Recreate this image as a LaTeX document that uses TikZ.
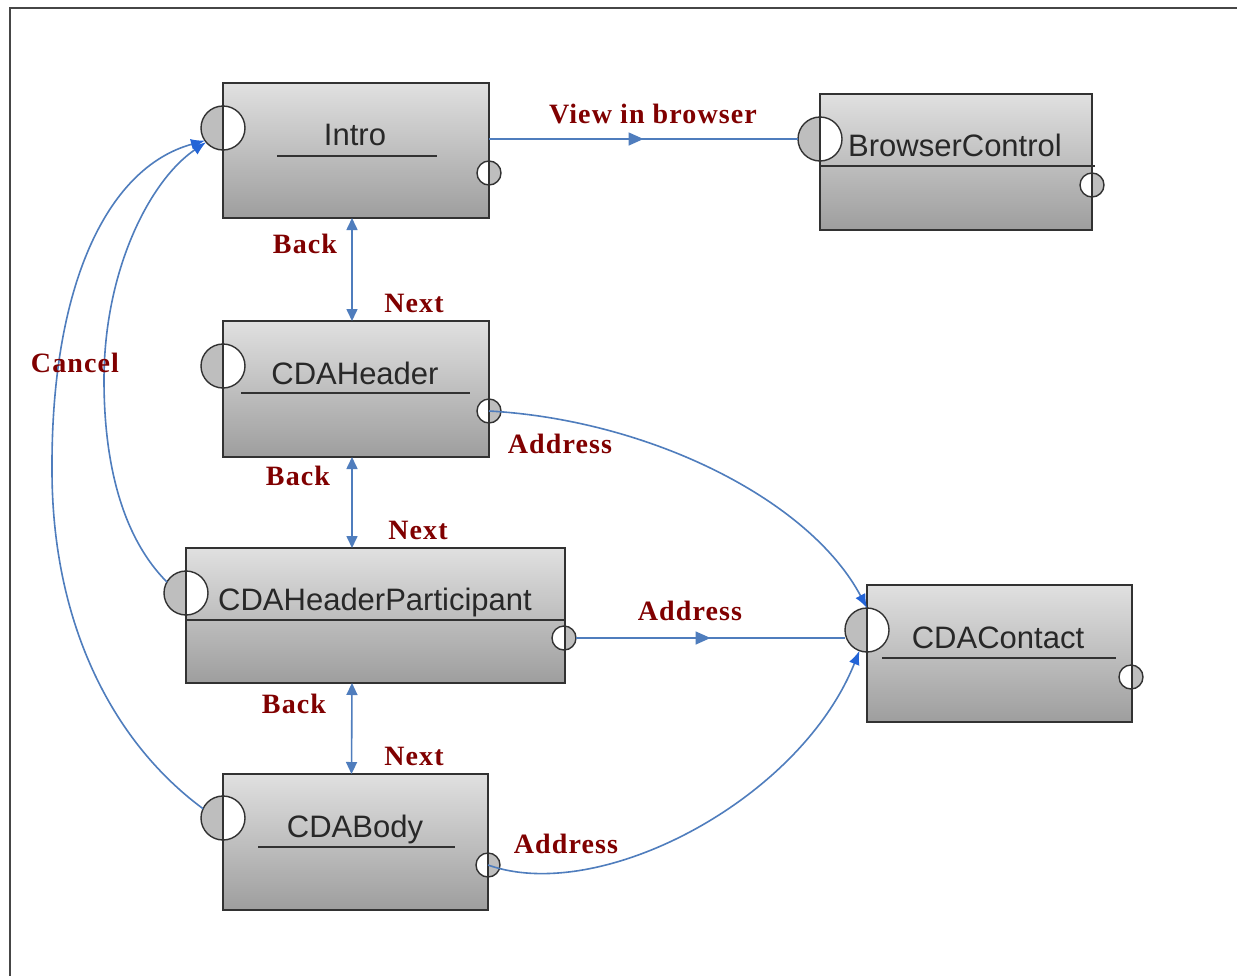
\documentclass[tikz,border=0pt]{standalone}
\usepackage{fontspec}
\setmainfont{Liberation Sans}
\newfontfamily\labfont[LetterSpace=4]{Liberation Serif}
\usetikzlibrary{arrows.meta,decorations.markings}
\definecolor{linecol}{RGB}{79,125,189}
\definecolor{tipcol}{RGB}{35,100,215}
\definecolor{labcol}{RGB}{128,0,0}
\definecolor{boxline}{RGB}{50,50,50}
\definecolor{framecol}{RGB}{70,70,70}
\definecolor{txtcol}{RGB}{40,40,40}
\definecolor{boxtop}{RGB}{224,224,224}
\definecolor{boxbot}{RGB}{158,158,158}
\definecolor{portgray}{RGB}{190,190,190}
\begin{document}
\begin{tikzpicture}[x=1pt,y=-1pt,
  box/.style={rectangle,draw=boxline,line width=1.8pt,top color=boxtop,bottom color=boxbot,inner sep=0pt,outer sep=0pt,anchor=north west},
  boxedge/.style={draw=boxline,line width=1.8pt},
  bigport/.style={circle,draw=boxline,line width=1.4pt,fill=white,minimum size=44pt,inner sep=0pt,outer sep=0pt,
    path picture={\fill[portgray] (path picture bounding box.north west) rectangle (path picture bounding box.south);}},
  smallport/.style={circle,draw=boxline,line width=1.4pt,fill=white,minimum size=24pt,inner sep=0pt,outer sep=0pt,
    path picture={\fill[portgray] (path picture bounding box.north) rectangle (path picture bounding box.south east);}},
  sepline/.style={draw=boxline,line width=1.8pt},
  compname/.style={anchor=base,text=txtcol,font=\fontsize{31}{36}\selectfont,inner sep=0pt},
  lab/.style={anchor=base,text=labcol,font=\labfont\bfseries\fontsize{28}{32}\selectfont,inner sep=0pt},
  conn/.style={draw=linecol,line width=1.6pt},
  dblarrow/.style={{Triangle[length=12pt,width=11pt]}-{Triangle[length=12pt,width=11pt]}},
  tip/.style={-{Latex[length=14pt,width=11pt,color=tipcol]}},
  midarrow/.style={postaction={decorate},decoration={markings,mark=at position 0.5 with {\arrow{Triangle[length=15pt,width=13pt]}}}}
]
\useasboundingbox (0,0) rectangle (1237,975);
\fill[white] (0,0) rectangle (1237,975);
% frame
\draw[framecol,line width=2.5pt] (10,990) -- (10,8) -- (1250,8);

% boxes
\node[box,minimum width=266pt,minimum height=135pt] (intro) at (223,83) {};
\node[box,minimum width=272pt,minimum height=136pt] (bc) at (820,94) {};
\node[box,minimum width=266pt,minimum height=136pt] (hdr) at (223,321) {};
\node[box,minimum width=379pt,minimum height=135pt] (pp) at (186,548) {};
\node[box,minimum width=265pt,minimum height=137pt] (contact) at (867,585) {};
\node[box,minimum width=265pt,minimum height=136pt] (body) at (223,774) {};

% separator / underline lines
\draw[sepline] (277,156) -- (437,156);
\draw[sepline] (820,166) -- (1095,166);
\draw[sepline] (241,393) -- (470,393);
\draw[sepline] (186,620) -- (565,620);
\draw[sepline] (882,658) -- (1116,658);
\draw[sepline] (258,847) -- (455,847);

% ports
\node[bigport] (introIn) at (223,128) {};
\node[smallport] (introOut) at (489,173) {};
\node[bigport] (bcIn) at (820,139) {};
\node[smallport] (bcOut) at (1092,185) {};
\node[bigport] (hdrIn) at (223,366) {};
\node[smallport] (hdrOut) at (489,411) {};
\node[bigport] (ppIn) at (186,593) {};
\node[smallport] (ppOut) at (564,638) {};
\node[bigport] (cIn) at (867,630) {};
\node[smallport] (cOut) at (1131,677) {};
\node[bigport] (bodyIn) at (223,818) {};
\node[smallport] (bodyOut) at (488,865) {};

% box edges redrawn through the ports
\foreach \b in {intro,bc,hdr,pp,contact,body}{
  \draw[boxedge] (\b.north west) rectangle (\b.south east);
}

% component names
\node[compname] (introT) at (355,145) {Intro};
\node[compname] (bcT) at (955,156) {BrowserControl};
\node[compname] (hdrT) at (355,384) {CDAHeader};
\node[compname] (ppT) at (375,610) {CDAHeaderParticipant};
\node[compname] (cT) at (998,648) {CDAContact};
\node[compname] (bodyT) at (355,837) {CDABody};

% connectors
\draw[conn,dblarrow] ([xshift=-4pt]intro.south) -- ([xshift=-4pt]hdr.north);
\draw[conn,dblarrow] ([xshift=-4pt]hdr.south) -- ([xshift=-4pt]hdr.south |- pp.north);
\draw[conn,dblarrow] ([xshift=-4pt]hdr.south |- pp.south) -- ([xshift=-4pt]body.north);

\draw[conn,midarrow] (intro.east |- bcIn) -- (bcIn.west);
\draw[conn,midarrow] (ppOut.east) -- (ppOut.east -| cIn.west);

\draw[conn,tip] (hdrOut.center) .. controls (650,420) and (810,500) .. (cIn.north);
\draw[conn,tip] (bodyOut.center) .. controls (600,905) and (800,800) .. (cIn.250);

\draw[conn,tip] (bodyIn.155) .. controls (110,740) and (52,620) .. (52,470)
   .. controls (51,290) and (105,168) .. (introIn.215);
\draw[conn,tip] (ppIn.150) .. controls (125,540) and (104,470) .. (104,380)
   .. controls (104,270) and (150,180) .. (introIn.220);

% labels
\node[lab] (lView) at (653,123) {View in browser};
\node[lab] (lAddr1) at (560,453) {Address};
\node[lab] (lAddr2) at (690,620) {Address};
\node[lab] (lAddr3) at (566,853) {Address};
\node[lab] (lBack1) at (305,253) {Back};
\node[lab] (lNext1) at (414,312) {Next};
\node[lab] (lBack2) at (298,485) {Back};
\node[lab] (lNext2) at (418,539) {Next};
\node[lab] (lBack3) at (294,713) {Back};
\node[lab] (lNext3) at (414,765) {Next};
\node[lab] (lCancel) at (75,372) {Cancel};
\end{tikzpicture}
\end{document}
